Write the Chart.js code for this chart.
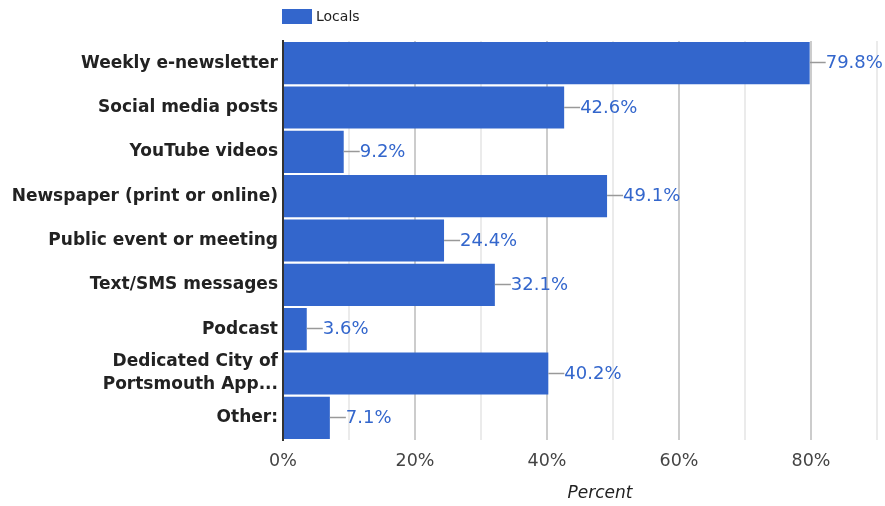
<!DOCTYPE html>
<html>
<head>
<meta charset="utf-8">
<script src="https://cdn.jsdelivr.net/npm/chart.js@4"></script>
<style>
  html, body { margin: 0; padding: 0; background: #fff; }
  #wrap { width: 885px; height: 506px; }
</style>
</head>
<body>
<div id="wrap"><canvas id="grafico" width="885" height="506"></canvas></div>
<script>
const categories = [
  'Weekly e-newsletter',
  'Social media posts',
  'YouTube videos',
  'Newspaper (print or online)',
  'Public event or meeting',
  'Text/SMS messages',
  'Podcast',
  ['Dedicated City of', 'Portsmouth App...'],
  'Other:'
];
const locals = [79.8, 42.6, 9.2, 49.1, 24.4, 32.1, 3.6, 40.2, 7.1];
const seriesName = 'Locals';
const axisTitle = 'Percent';

const blue = '#3366cc';
const font = '"DejaVu Sans", sans-serif';

// value labels with a short leader line, plus legend and axis title
const extras = {
  id: 'extras',
  afterDatasetsDraw(chart) {
    const ctx = chart.ctx;
    const meta = chart.getDatasetMeta(0);
    ctx.save();
    meta.data.forEach((bar, i) => {
      const x = bar.x, y = Math.round(bar.y) - 0.5;
      ctx.strokeStyle = '#999';
      ctx.lineWidth = 1.5;
      ctx.beginPath();
      ctx.moveTo(x, y);
      ctx.lineTo(x + 16, y);
      ctx.stroke();
      ctx.fillStyle = blue;
      ctx.font = '18px ' + font;
      ctx.textAlign = 'left';
      ctx.textBaseline = 'middle';
      ctx.fillText(locals[i].toFixed(1) + '%', x + 16, y + 1);
    });

    const left = chart.chartArea.left - 1;
    ctx.fillStyle = blue;
    ctx.fillRect(left, 9, 30, 15);
    ctx.fillStyle = '#222';
    ctx.font = '14px ' + font;
    ctx.textBaseline = 'middle';
    ctx.fillText(seriesName, left + 34, 17);

    ctx.fillStyle = '#222';
    ctx.font = 'italic 17px ' + font;
    ctx.textAlign = 'center';
    ctx.fillText(axisTitle, 600, 494);
    ctx.restore();
  }
};

new Chart(document.getElementById('grafico').getContext('2d'), {
  type: 'bar',
  data: {
    labels: categories,
    datasets: [{
      label: seriesName,
      data: locals,
      backgroundColor: blue,
      borderWidth: 0,
      barPercentage: 1,
      categoryPercentage: 0.95
    }]
  },
  options: {
    indexAxis: 'y',
    responsive: false,
    animation: false,
    layout: { padding: { top: 41, right: 8, left: 0, bottom: 0 } },
    plugins: {
      legend: { display: false },
      tooltip: { enabled: false }
    },
    scales: {
      x: {
        min: 0,
        max: 90,
        afterFit(scale) {
          scale.height = 66;
          scale.paddingRight = 0;
        },
        border: { display: false },
        grid: {
          drawTicks: false,
          lineWidth: 2,
          color: c => c.tick && c.tick.value === 0 ? 'rgba(0,0,0,0)' :
            (c.tick && c.tick.value % 20 === 0 ? '#cccccc' : '#ebebeb')
        },
        ticks: {
          stepSize: 10,
          autoSkip: false,
          maxRotation: 0,
          padding: 11,
          color: '#444',
          font: { family: font, size: 17.5 },
          callback: v => v % 20 === 0 ? v + '%' : ''
        }
      },
      y: {
        afterFit(scale) { scale.width = 283; },
        border: { display: true, color: '#333', width: 2, z: 1 },
        grid: { display: false, drawTicks: false },
        ticks: {
          autoSkip: false,
          padding: 5,
          color: '#222',
          font: { family: font, size: 17, weight: 'bold', lineHeight: 1.35 }
        }
      }
    }
  },
  plugins: [extras]
});
</script>
</body>
</html>
